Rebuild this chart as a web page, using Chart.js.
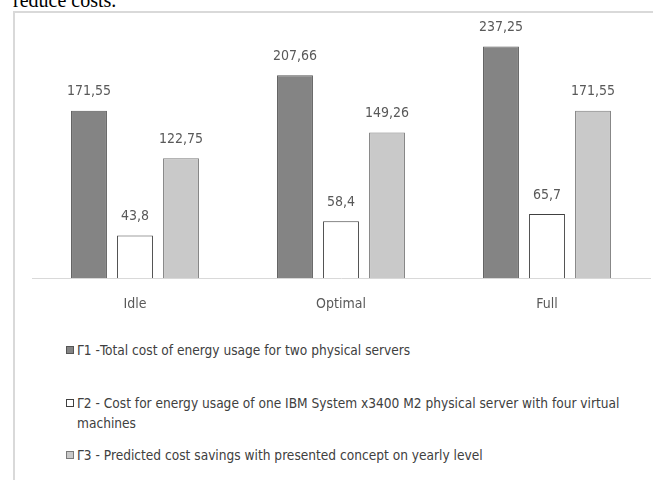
<!DOCTYPE html>
<html>
<head>
<meta charset="utf-8">
<script src="https://cdn.jsdelivr.net/npm/chart.js@4.4.1/dist/chart.umd.min.js"></script>
<style>
  body { margin: 0; background: #fff; width: 653px; height: 480px; overflow: hidden; position: relative; }
  #caption { position: absolute; left: 13px; top: -10px; font: 20px/20px "Liberation Serif", serif; color: #000; }
  #frame { position: absolute; left: 13px; top: 11px; width: 700px; height: 500px;
           border-left: 2px solid #d9d9d9; border-top: 2px solid #d9d9d9; }
  #wrap { position: absolute; left: 0; top: 0; width: 653px; height: 333px; }
  .leg { position: absolute; left: 66px; font: 13.6px/20px "DejaVu Sans Condensed", sans-serif; color: #404040; }
  .leg .sq { display: inline-block; width: 6px; height: 6px; margin-right: 3px; vertical-align: 1px; }
  .leg .txt { display: inline-block; vertical-align: top; width: 560px; }
</style>
</head>
<body>
<div id="caption">reduce costs.</div>
<div id="frame"></div>
<div id="wrap"><canvas id="chartCost"></canvas></div>
<div id="legend"></div>
<script>
var categories = ['Idle', 'Optimal', 'Full'];
var seriesNames = [
  'Γ1 -Total cost of energy usage for two physical servers',
  'Γ2 - Cost for energy usage of one IBM System x3400 M2 physical server with four virtual machines',
  'Γ3 - Predicted cost savings with presented concept on yearly level'
];
var g1 = [171.55, 207.66, 237.25];
var g2 = [43.8, 58.4, 65.7];
var g3 = [122.75, 149.26, 171.55];

var fills = ['#848484', '#ffffff', '#c9c9c9'];
var borders = ['#555555', '#404040', '#7a7a7a'];
var legendTops = [340, 393, 445];

// value labels above the bars, with decimal comma
var valueLabels = {
  id: 'valueLabels',
  afterDatasetsDraw: function (chart) {
    var ctx = chart.ctx;
    ctx.save();
    ctx.font = '14px "DejaVu Sans Condensed", sans-serif';
    ctx.fillStyle = '#595959';
    ctx.textAlign = 'center';
    ctx.textBaseline = 'middle';
    chart.data.datasets.forEach(function (ds, i) {
      chart.getDatasetMeta(i).data.forEach(function (bar, j) {
        ctx.fillText(String(ds.data[j]).replace('.', ','), bar.x, bar.y - 19);
      });
    });
    ctx.restore();
  }
};

var ctx = document.getElementById('chartCost');
var myChart = new Chart(ctx, {
  type: 'bar',
  data: {
    labels: categories,
    datasets: [g1, g2, g3].map(function (d, i) {
      return {
        label: seriesNames[i],
        data: d,
        backgroundColor: fills[i],
        borderColor: borders[i],
        borderWidth: 1,
        borderSkipped: 'bottom',
        categoryPercentage: 0.67,
        barPercentage: 0.78
      };
    })
  },
  options: {
    responsive: true,
    maintainAspectRatio: false,
    animation: false,
    layout: { padding: { left: 32, right: 3, top: 34, bottom: 2 } },
    scales: {
      x: {
        grid: { display: false, drawTicks: false },
        border: { display: true, color: '#d9d9d9', width: 1 },
        ticks: {
          padding: 18,
          color: '#595959',
          font: { family: '"DejaVu Sans Condensed", sans-serif', size: 14 }
        }
      },
      y: { display: false, min: 0, max: 250 }
    },
    plugins: {
      legend: { display: false },
      tooltip: { enabled: false }
    }
  },
  plugins: [valueLabels]
});

// legend as html so the long entry can wrap
var legend = document.getElementById('legend');
seriesNames.forEach(function (name, i) {
  var item = document.createElement('div');
  item.className = 'leg';
  item.style.top = legendTops[i] + 'px';
  item.innerHTML = '<span class="sq" style="background:' + fills[i] + ';border:1px solid ' + borders[i] + '"></span>' +
    '<span class="txt">' + name + '</span>';
  legend.appendChild(item);
});
</script>
</body>
</html>
